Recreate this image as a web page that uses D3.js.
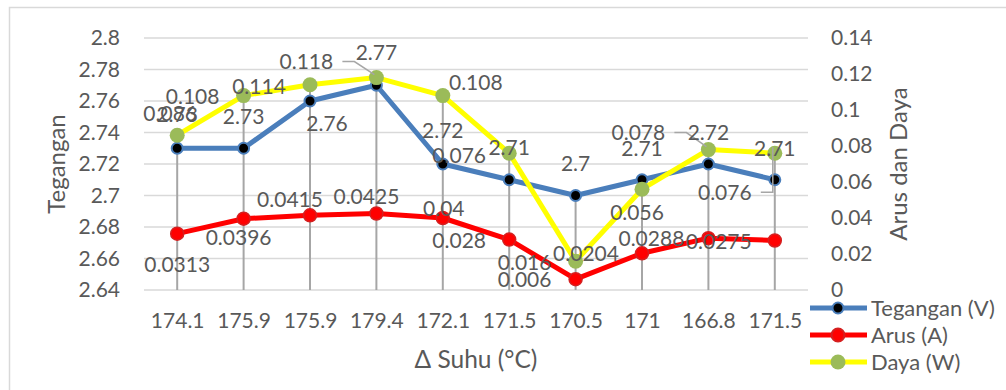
<!DOCTYPE html>
<html><head><meta charset="utf-8">
<script src="https://cdn.jsdelivr.net/npm/d3@7"></script>
<style>
html,body{margin:0;padding:0;background:#fff;}
text{font-family:Lato,"Open Sans",sans-serif;fill:#595959;}
</style></head>
<body><svg id="c" width="1006" height="390"></svg>
<script>
const categories = ["174.1","175.9","175.9","179.4","172.1","171.5","170.5","171","166.8","171.5"];
const tegangan = [2.73,2.73,2.76,2.77,2.72,2.71,2.70,2.71,2.72,2.71];
const arus = [0.0313,0.0396,0.0415,0.0425,0.04,0.028,0.006,0.0204,0.0288,0.0275];
const daya = [0.086,0.108,0.114,0.118,0.108,0.076,0.016,0.056,0.078,0.076];
const leftTicks = [2.64,2.66,2.68,2.70,2.72,2.74,2.76,2.78,2.80];
const rightTicks = [0,0.02,0.04,0.06,0.08,0.10,0.12,0.14];
const seriesNames = ["Tegangan (V)","Arus (A)","Daya (W)"];

// label placement offsets (label centre relative to point)
const tegOff = [[0,-34],[0,-32],[17,23],[0,-33],[0,-33],[0,-32],[0,-32],[0,-31],[0,-31],[0,-31]];
const arusOff = [[0,31],[-5,19],[-20,-16],[-10,-17],[1,-9],[-50,1],[-51,0],[-56,0],[-57,0],[-56,1]];
const dayaOff = [[-7,-22],[-51,1],[-51,2],[-70,-16],[33,-13],[-50,2],[-51,1],[-5,23],[-70,-17],[-50,39]];
const dayaLeader = [false,false,false,true,false,false,false,false,true,true];

const svg = d3.select("#c");
const L = 144, R = 808, T = 38, B = 290;
const x = d3.scalePoint().domain(d3.range(categories.length)).range([L,R]).padding(0.5);
const yL = d3.scaleLinear().domain([2.64,2.8]).range([B,T]);
const yR = d3.scaleLinear().domain([0,0.14]).range([B,T]);

// chart border
svg.append("rect").attr("x",9.5).attr("y",7.5).attr("width",1010).attr("height",400)
  .attr("fill","none").attr("stroke","#D9D9D9").attr("stroke-width",1.5);

// gridlines
svg.append("g").selectAll("line").data(leftTicks).join("line")
  .attr("x1",L).attr("x2",R).attr("y1",d=>yL(d)).attr("y2",d=>yL(d))
  .attr("stroke","#D9D9D9").attr("stroke-width",1.5);

// axes
const fmtL = d=>String(+d.toFixed(2));
const gL = svg.append("g").attr("transform",`translate(${L},0)`)
  .call(d3.axisLeft(yL).tickValues(leftTicks).tickFormat(fmtL).tickSize(0).tickPadding(24));
const gR = svg.append("g").attr("transform",`translate(${R},0)`)
  .call(d3.axisRight(yR).tickValues(rightTicks).tickFormat(d=>String(+d.toFixed(2))).tickSize(0).tickPadding(23));
const gX = svg.append("g").attr("transform",`translate(0,${B})`)
  .call(d3.axisBottom(x).tickFormat(i=>categories[i]).tickSize(0).tickPadding(23));
[gL,gR,gX].forEach(g=>{g.select(".domain").remove();
  g.selectAll("text").style("font-family","Lato").style("font-size","21px").attr("fill","#595959");});

// axis titles
svg.append("text").attr("transform",`translate(65,164) rotate(-90)`).attr("text-anchor","middle")
  .style("font-size","24px").text("Tegangan");
svg.append("text").attr("transform",`translate(907,164) rotate(-90)`).attr("text-anchor","middle")
  .style("font-size","24px").text("Arus dan Daya");
svg.append("text").attr("x",476).attr("y",368).attr("text-anchor","middle")
  .style("font-size","24.5px").text("Δ Suhu (°C)");

// drop lines from topmost point of each category
const idx = d3.range(categories.length);
const topY = i => Math.min(yL(tegangan[i]), yR(arus[i]), yR(daya[i]));

const lineL = d3.line().x((d,i)=>x(i)).y(d=>yL(d));
const lineR = d3.line().x((d,i)=>x(i)).y(d=>yR(d));

// Tegangan
svg.append("path").datum(tegangan).attr("d",lineL).attr("fill","none")
  .attr("stroke","#4A7EBB").attr("stroke-width",5).attr("stroke-linejoin","round");

svg.append("g").selectAll("line").data(idx).join("line")
  .attr("x1",i=>x(i)).attr("x2",i=>x(i)).attr("y1",i=>topY(i)).attr("y2",B)
  .attr("stroke","#A6A6A6").attr("stroke-width",2);

svg.append("g").selectAll("circle").data(tegangan).join("circle")
  .attr("cx",(d,i)=>x(i)).attr("cy",d=>yL(d)).attr("r",5.5)
  .attr("fill","#000").attr("stroke","#4A7EBB").attr("stroke-width",2);

// Arus
svg.append("path").datum(arus).attr("d",lineR).attr("fill","none")
  .attr("stroke","#FF0000").attr("stroke-width",5).attr("stroke-linejoin","round");
svg.append("g").selectAll("circle").data(arus).join("circle")
  .attr("cx",(d,i)=>x(i)).attr("cy",d=>yR(d)).attr("r",6.5)
  .attr("fill","#FF0000").attr("stroke","#D42020").attr("stroke-width",1.5);

// Daya
svg.append("path").datum(daya).attr("d",lineR).attr("fill","none")
  .attr("stroke","#FFFF00").attr("stroke-width",5).attr("stroke-linejoin","round");
svg.append("g").selectAll("circle").data(daya).join("circle")
  .attr("cx",(d,i)=>x(i)).attr("cy",d=>yR(d)).attr("r",7.5)
  .attr("fill","#9BBB59");

// leader lines for Daya
const lg = svg.append("g");
idx.forEach(i=>{
  if(!dayaLeader[i]) return;
  const px = x(i), py = yR(daya[i]);
  const lx = px + dayaOff[i][0], ly = py + dayaOff[i][1];
  const sx = lx + 36, hx = sx + 12;
  lg.append("polyline").attr("points",`${sx},${ly} ${hx},${ly} ${px-2},${py + (ly<py?-3:-6)}`)
    .attr("fill","none").attr("stroke","#A6A6A6").attr("stroke-width",1.5);
});

// labels
const lab = svg.append("g").style("font-size","21px").attr("text-anchor","middle");
function labels(vals, yS, off){
  lab.selectAll(null).data(vals).join("text")
    .attr("x",(d,i)=>x(i)+off[i][0]).attr("y",(d,i)=>yS(d)+off[i][1])
    .attr("dy","0.35em").text(d=>String(d));
}
labels(tegangan, yL, tegOff);
labels(arus, yR, arusOff);
labels(daya, yR, dayaOff);

// legend
const legColors = [["#4A7EBB","#000","#4A7EBB",5.5],["#FF0000","#FF0000","#D42020",6.5],["#FFFF00","#9BBB59","none",7.5]];
const lgd = svg.append("g");
seriesNames.forEach((n,k)=>{
  const yy = 308 + k*27;
  lgd.append("line").attr("x1",810).attr("x2",867).attr("y1",yy).attr("y2",yy)
    .attr("stroke",legColors[k][0]).attr("stroke-width",5);
  lgd.append("circle").attr("cx",838).attr("cy",yy).attr("r",legColors[k][3])
    .attr("fill",legColors[k][1]).attr("stroke",legColors[k][2]).attr("stroke-width",2);
  lgd.append("text").attr("x",871).attr("y",yy).attr("dy","0.35em").style("font-size","22px").text(n);
});
</script></body></html>
